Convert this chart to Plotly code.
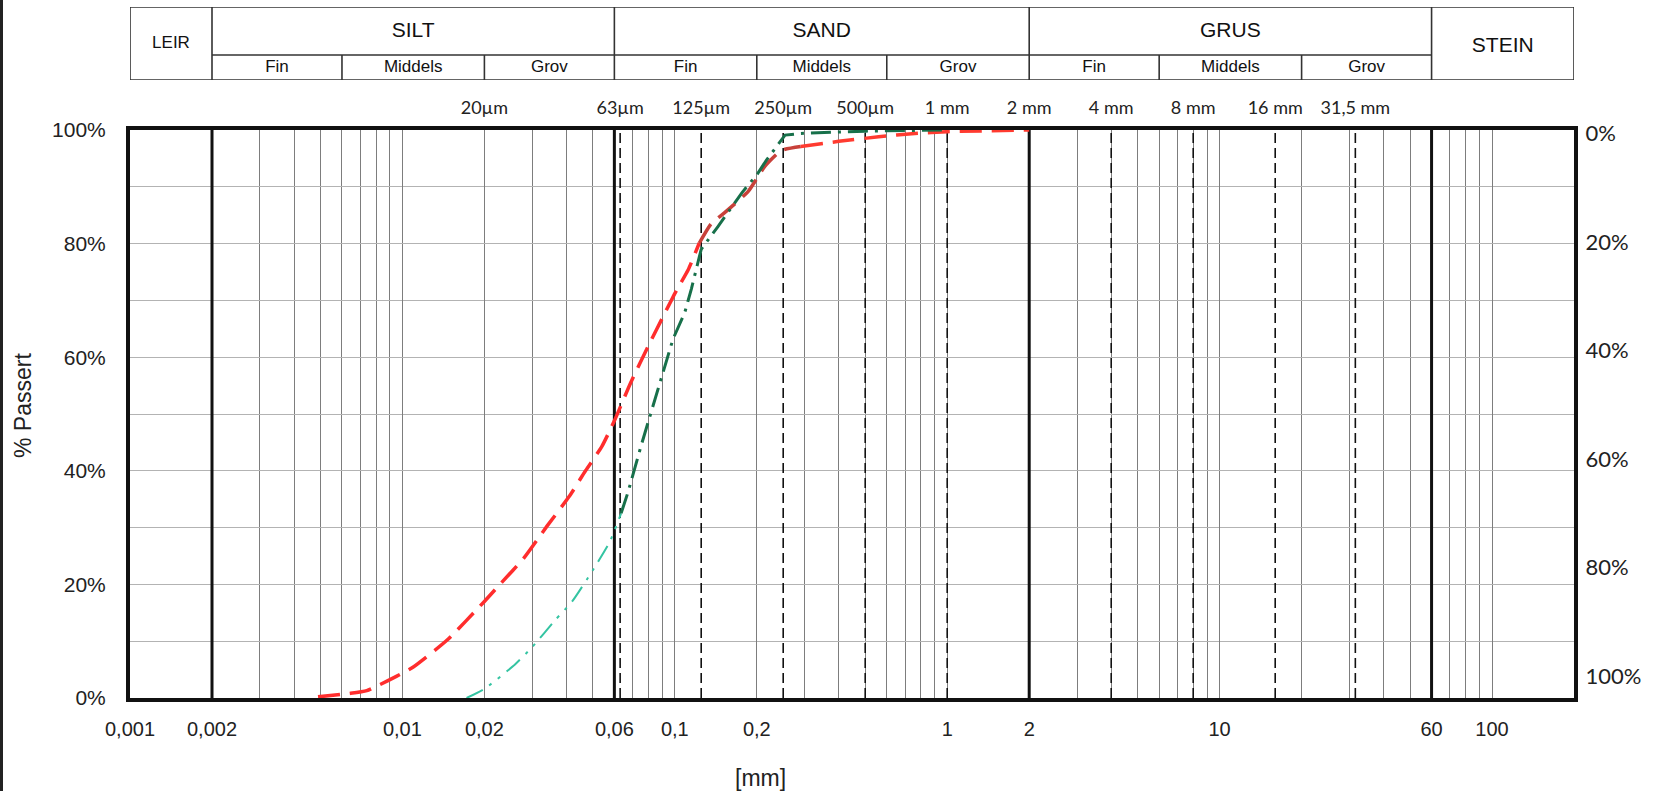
import numpy as np
import plotly.graph_objects as go

# ---------------- data ----------------
red_x = [0.0049, 0.0064, 0.0074, 0.0095, 0.011, 0.0146, 0.020, 0.023, 0.028, 0.034,
         0.041, 0.047, 0.054, 0.060, 0.069, 0.080, 0.092, 0.101, 0.112, 0.123,
         0.136, 0.152, 0.186, 0.214, 0.246, 0.29, 0.40, 0.56, 0.76, 1.0, 2.0]
red_y = [0.2, 0.8, 1.3, 3.8, 5.5, 10.2, 17.0, 20.2, 24.7, 30.3,
         35.5, 40.0, 44.3, 48.8, 55.6, 62.0, 67.8, 71.6, 75.4, 80.1,
         83.5, 85.4, 89.2, 93.6, 96.4, 97.1, 98.0, 98.8, 99.4, 99.7, 100.0]

green_x = [0.0172, 0.020, 0.0259, 0.030, 0.0365, 0.042, 0.050, 0.0577, 0.0635,
           0.0673, 0.0752, 0.0867, 0.0985, 0.1087, 0.115, 0.125, 0.144, 0.176,
           0.202, 0.217, 0.254, 0.29, 0.5, 1.0]
green_y = [0.0, 1.6, 5.9, 9.0, 13.8, 17.0, 22.5, 27.5, 32.5,
           36.2, 44.4, 54.4, 63.2, 67.8, 72.0, 79.0, 83.0, 88.9,
           92.4, 94.7, 99.1, 99.4, 99.8, 100.0]

bottom_tickvals = [0.001, 0.002, 0.01, 0.02, 0.06, 0.1, 0.2, 1, 2, 10, 60, 100]
bottom_ticktext = ["0,001", "0,002", "0,01", "0,02", "0,06", "0,1", "0,2", "1", "2", "10", "60", "100"]
top_tickvals = [0.02, 0.063, 0.125, 0.25, 0.5, 1, 2, 4, 8, 16, 31.5]
top_ticktext = ["20µm", "63µm", "125µm", "250µm", "500µm", "1 mm", "2 mm", "4 mm", "8 mm", "16 mm", "31,5 mm"]
pct_ticks = [0, 20, 40, 60, 80, 100]

main_bounds = [0.001, 0.002, 0.06, 2, 60, 200]          # LEIR | SILT | SAND | GRUS | STEIN
main_names = ["LEIR", "SILT", "SAND", "GRUS", "STEIN"]
sub_bounds = [0.002, 0.006, 0.02, 0.06, 0.2, 0.6, 2, 6, 20, 60]
sub_names = ["Fin", "Middels", "Grov"] * 3
dashed_sizes = [0.063, 0.125, 0.25, 0.5, 1, 4, 8, 16, 31.5]

# ---------------- styling helpers ----------------
X_MIN, X_MAX = 0.001, 200
log_range = [np.log10(X_MIN), np.log10(X_MAX)]
grid_vals = [m * 10.0 ** e for e in range(-3, 3) for m in range(1, 10) if m * 10.0 ** e <= X_MAX * 1.0001]
minor_vals = [v for v in grid_vals if not any(abs(v - t) / t < 1e-6 for t in bottom_tickvals)]

red_split = (19, 25)
green_split = 8

fig = go.Figure()

# red curve (bright / darker / bright)
red_dash = "22px,10px"
segs = [(0, red_split[0] + 1, "#ff2d2d"), (red_split[0], red_split[1] + 1, "#c8413a"), (red_split[1], len(red_x), "#ff3b30")]
for a, b, col in segs:
    fig.add_trace(go.Scatter(x=red_x[a:b], y=red_y[a:b], mode="lines",
                             line=dict(color=col, width=3.5, dash=red_dash, shape="spline", smoothing=0.5),
                             showlegend=False, hoverinfo="skip"))

# green curve (light teal lower part, dark green upper part)
fig.add_trace(go.Scatter(x=green_x[:green_split + 1], y=green_y[:green_split + 1], mode="lines",
                         line=dict(color="#34c4a2", width=2, dash="18px,8px,3px,8px,3px,8px",
                                   shape="spline", smoothing=0.5),
                         showlegend=False, hoverinfo="skip"))
fig.add_trace(go.Scatter(x=green_x[green_split:], y=green_y[green_split:], mode="lines",
                         line=dict(color="#17704a", width=3, dash="20px,7px,3px,7px"),
                         showlegend=False, hoverinfo="skip"))

# invisible carriers for the secondary axes
fig.add_trace(go.Scatter(x=red_x, y=red_y, xaxis="x2", yaxis="y", mode="none",
                         showlegend=False, hoverinfo="skip"))
fig.add_trace(go.Scatter(x=red_x, y=red_y, xaxis="x", yaxis="y2", mode="none",
                         showlegend=False, hoverinfo="skip"))

# header texts (on their own subplot)
main_centers = [float(np.sqrt(main_bounds[i] * main_bounds[i + 1])) for i in range(len(main_names))]
main_ys = [0.49, 0.66, 0.66, 0.66, 0.45]
main_sizes = [17, 21, 21, 21, 21]
fig.add_trace(go.Scatter(x=main_centers, y=main_ys, mode="text", text=main_names,
                         textfont=dict(family="Liberation Sans, Arial", size=main_sizes, color="#111"),
                         xaxis="x4", yaxis="y3", showlegend=False, hoverinfo="skip"))
sub_centers = [float(np.sqrt(sub_bounds[i] * sub_bounds[i + 1])) for i in range(len(sub_names))]
fig.add_trace(go.Scatter(x=sub_centers, y=[0.17] * len(sub_names), mode="text", text=sub_names,
                         textfont=dict(family="Liberation Sans, Arial", size=17, color="#111"),
                         xaxis="x4", yaxis="y3", showlegend=False, hoverinfo="skip"))

shapes = []
# header frame
hl = dict(color="#333", width=1.6)
split_y = 0.342
shapes.append(dict(type="rect", xref="x4", yref="y3", x0=X_MIN, x1=X_MAX, y0=0, y1=1, line=hl, layer="above"))
for b in main_bounds[1:-1]:
    shapes.append(dict(type="line", xref="x4", yref="y3", x0=b, x1=b, y0=0, y1=1, line=hl))
shapes.append(dict(type="line", xref="x4", yref="y3", x0=main_bounds[1], x1=main_bounds[-2],
                   y0=split_y, y1=split_y, line=hl))
for b in sub_bounds[1:-1]:
    if b not in main_bounds:
        shapes.append(dict(type="line", xref="x4", yref="y3", x0=b, x1=b, y0=0, y1=split_y, line=hl))

# thick class boundary lines
for b in main_bounds[1:-1]:
    shapes.append(dict(type="line", xref="x", yref="y", x0=b, x1=b, y0=0, y1=100,
                       line=dict(color="#111", width=3), layer="between"))
# dashed sieve lines
for b in dashed_sizes:
    shapes.append(dict(type="line", xref="x", yref="y", x0=b, x1=b, y0=0, y1=100,
                       line=dict(color="#111", width=1.6, dash="10px,5px"), layer="between"))
# scan edge at far left
shapes.append(dict(type="line", xref="paper", yref="paper", x0=-128.5 / 1444, x1=-128.5 / 1444,
                   y0=-93 / 691, y1=705 / 691, line=dict(color="#222", width=3)))

fig.update_layout(
    template="none",
    width=1654, height=791,
    margin=dict(l=130, r=80, t=7, b=93, autoexpand=False),
    paper_bgcolor="white", plot_bgcolor="white",
    showlegend=False,
    shapes=shapes,
    xaxis=dict(type="log", range=log_range, domain=[0, 1], anchor="y", automargin=False,
               tickmode="array", tickvals=bottom_tickvals, ticktext=bottom_ticktext,
               tickfont=dict(family="Liberation Sans, Arial", size=20, color="#222"),
               ticks="outside", ticklen=10, tickcolor="rgba(0,0,0,0)",
               showgrid=True, gridcolor="#7d7d7d", gridwidth=1,
               minor=dict(tickmode="array", tickvals=minor_vals, showgrid=True,
                          gridcolor="#7d7d7d", gridwidth=1, ticks=""),
               showline=True, linecolor="#111", linewidth=4, mirror=True, zeroline=False),
    xaxis2=dict(type="log", range=log_range, overlaying="x", side="top", anchor="y", automargin=False,
                tickmode="array", tickvals=top_tickvals, ticktext=top_ticktext,
                tickfont=dict(family="Lato, Open Sans", size=18, color="#222"),
                ticks="outside", ticklen=8, tickcolor="rgba(0,0,0,0)",
                showgrid=False, showline=False, zeroline=False),
    yaxis=dict(range=[0, 100], domain=[0, 568 / 691], anchor="x", automargin=False,
               tickmode="array", tickvals=pct_ticks, ticktext=[f"{v}%" for v in pct_ticks],
               tickfont=dict(family="Liberation Sans, Arial", size=21, color="#222"),
               ticks="outside", ticklen=16, tickcolor="rgba(0,0,0,0)",
               showgrid=True, gridcolor="#b3b3b3", gridwidth=1,
               minor=dict(dtick=10, showgrid=True, gridcolor="#b3b3b3", gridwidth=1, ticks=""),
               showline=True, linecolor="#111", linewidth=4, mirror=True, zeroline=False),
    yaxis2=dict(range=[104, -0.6], overlaying="y", side="right", anchor="x", automargin=False,
                tickmode="array", tickvals=pct_ticks, ticktext=[f"{v}%" for v in pct_ticks],
                tickfont=dict(family="Lato, Open Sans", size=22, color="#222"),
                ticks="outside", ticklen=6, tickcolor="rgba(0,0,0,0)",
                showgrid=False, showline=False, zeroline=False),
    xaxis4=dict(type="log", range=log_range, domain=[0, 1], anchor="y3", visible=False),
    yaxis3=dict(range=[0, 1], domain=[618 / 691, 1], anchor="x4", visible=False),
    annotations=[
        dict(text="% Passert", xref="paper", yref="paper", x=-107 / 1444, y=292 / 691,
             textangle=-90, showarrow=False, xanchor="center", yanchor="middle",
             font=dict(family="Liberation Sans, Arial", size=23, color="#222")),
        dict(text="[mm]", xref="paper", yref="paper", x=630 / 1444, y=-80 / 691,
             showarrow=False, xanchor="center", yanchor="middle",
             font=dict(family="Liberation Sans, Arial", size=23, color="#222")),
    ],
)

fig.write_html("out.html", config={"displayModeBar": False},
               post_script="document.body.style.margin='0';")
